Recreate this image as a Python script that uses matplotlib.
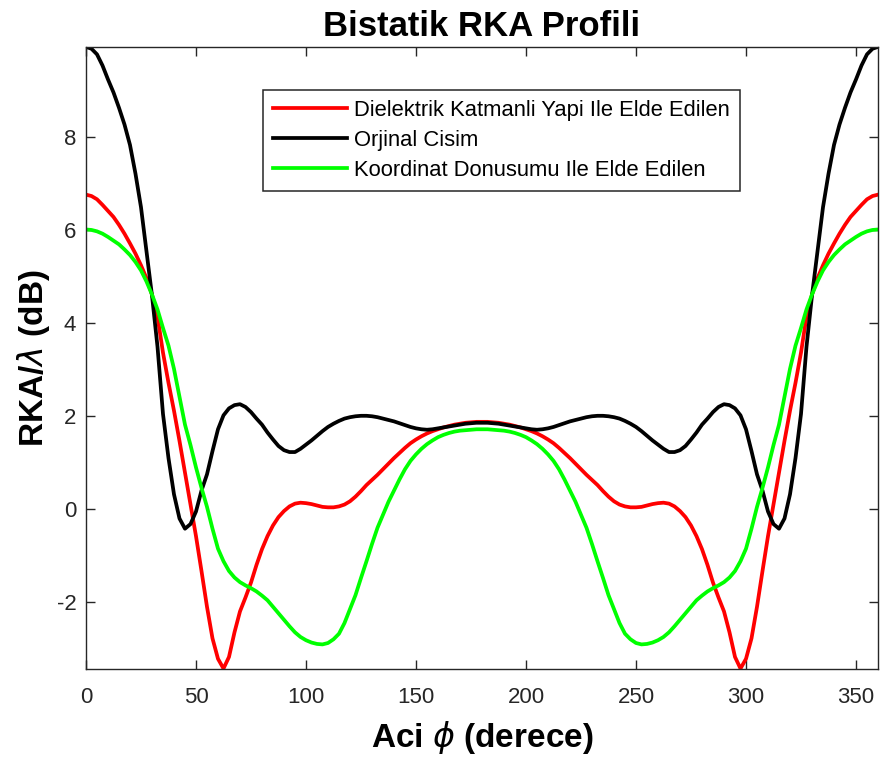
import numpy as np
import matplotlib
matplotlib.use("Agg")
import matplotlib.pyplot as plt

# aci degerleri 0..180 (profil 180 derece etrafinda simetrik)
aci_yarim = np.arange(0, 180.1, 2.5)

dielektrik = [6.77, 6.74, 6.67, 6.55, 6.42, 6.29, 6.12, 5.93, 5.72, 5.50,
              5.25, 4.97, 4.62, 4.15, 3.37, 2.72, 2.12, 1.47, 0.79, 0.10,
              -0.58, -1.33, -2.10, -2.78, -3.22, -3.43, -3.18, -2.65, -2.20, -1.90,
              -1.58, -1.20, -0.86, -0.58, -0.35, -0.17, -0.04, 0.06, 0.12, 0.14,
              0.13, 0.11, 0.08, 0.05, 0.04, 0.04, 0.06, 0.10, 0.17, 0.27,
              0.39, 0.52, 0.63, 0.74, 0.86, 0.98, 1.10, 1.21, 1.32, 1.42,
              1.50, 1.57, 1.63, 1.68, 1.72, 1.76, 1.79, 1.82, 1.84, 1.86,
              1.87, 1.88, 1.88]

orjinal = [9.95, 9.91, 9.79, 9.55, 9.25, 8.97, 8.64, 8.28, 7.84, 7.22,
           6.50, 5.55, 4.60, 3.50, 2.05, 1.10, 0.32, -0.20, -0.42, -0.32,
           -0.05, 0.40, 0.75, 1.25, 1.72, 2.02, 2.17, 2.24, 2.26, 2.20,
           2.09, 1.95, 1.82, 1.65, 1.50, 1.36, 1.27, 1.23, 1.23, 1.30,
           1.39, 1.48, 1.58, 1.68, 1.77, 1.84, 1.90, 1.95, 1.98, 2.00,
           2.01, 2.01, 2.00, 1.98, 1.95, 1.92, 1.89, 1.85, 1.81, 1.77,
           1.74, 1.72, 1.71, 1.72, 1.74, 1.76, 1.78, 1.80, 1.82, 1.84,
           1.85, 1.86, 1.86]

koordinat = [6.02, 6.01, 5.98, 5.93, 5.86, 5.78, 5.70, 5.59, 5.47, 5.32,
             5.14, 4.90, 4.62, 4.30, 3.90, 3.52, 3.02, 2.42, 1.82, 1.38,
             0.90, 0.46, 0.05, -0.42, -0.85, -1.12, -1.33, -1.47, -1.57, -1.64,
             -1.70, -1.77, -1.86, -1.96, -2.10, -2.24, -2.38, -2.52, -2.65, -2.75,
             -2.82, -2.87, -2.90, -2.91, -2.88, -2.80, -2.68, -2.45, -2.15, -1.85,
             -1.48, -1.12, -0.75, -0.40, -0.12, 0.16, 0.40, 0.64, 0.86, 1.04,
             1.18, 1.30, 1.40, 1.48, 1.55, 1.60, 1.64, 1.67, 1.69, 1.70,
             1.71, 1.72, 1.72]

etiketler = ["Dielektrik Katmanli Yapi Ile Elde Edilen",
             "Orjinal Cisim",
             "Koordinat Donusumu Ile Elde Edilen"]
renkler = ["#ff0000", "#000000", "#00ff00"]


def tam_profil(yarim):
    yarim = np.array(yarim)
    return np.concatenate([yarim, yarim[-2::-1]])


def main():
    plt.rcParams['font.family'] = ['Liberation Sans', 'DejaVu Sans']
    plt.rcParams['mathtext.fontset'] = 'dejavusans'
    plt.rcParams['axes.unicode_minus'] = False

    aci = np.concatenate([aci_yarim, 360 - aci_yarim[-2::-1]])

    fig = plt.figure(figsize=(8.81, 7.6), dpi=100)
    ax = fig.add_axes([0.0976, 0.1197, 0.899, 0.8186])

    for seri, etiket, renk in zip([dielektrik, orjinal, koordinat], etiketler, renkler):
        ax.plot(aci, tam_profil(seri), color=renk, lw=2.7, label=etiket)

    ax.set_xlim(0, 360)
    ax.set_ylim(-3.44, 9.95)
    ax.set_xticks(np.arange(0, 351, 50))
    ax.set_yticks(np.arange(-2, 9, 2))

    ax.tick_params(direction='in', top=True, right=True, length=6.5, width=1.0,
                   labelsize=16, colors='#262626')
    ax.tick_params(axis='x', pad=13)
    ax.tick_params(axis='y', pad=7)
    for sp in ax.spines.values():
        sp.set_color('#262626')
        sp.set_linewidth(1.0)

    ax.set_title("Bistatik RKA Profili", fontsize=25, fontweight='bold', pad=8)
    ax.set_xlabel(r"Aci $\phi$ (derece)", fontsize=24, fontweight='bold', labelpad=8)
    ax.set_ylabel(r"RKA/$\lambda$ (dB)", fontsize=24, fontweight='bold', labelpad=3)

    leg = ax.legend(loc='upper left', bbox_to_anchor=(0.2235, 0.931), borderaxespad=0,
                    fontsize=15.8, handlelength=3.4, handletextpad=0.3,
                    labelspacing=0.42, borderpad=0.45, fancybox=False, framealpha=1)
    leg.get_frame().set_edgecolor('#262626')
    leg.get_frame().set_linewidth(1.1)

    fig.savefig("out.png", dpi=100)


if __name__ == "__main__":
    main()
